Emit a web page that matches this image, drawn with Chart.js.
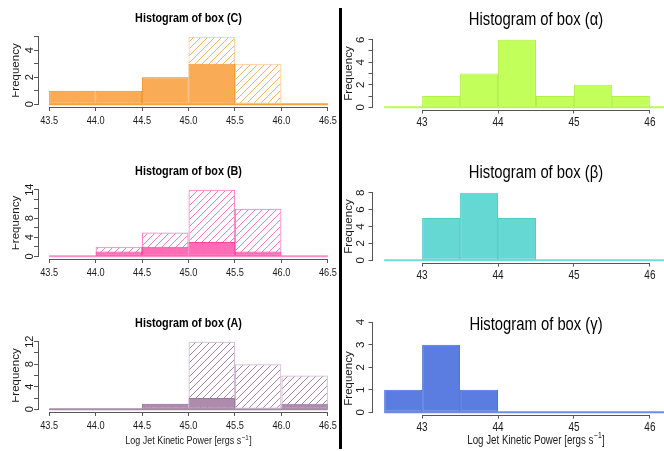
<!DOCTYPE html>
<html>
<head>
<meta charset="utf-8">
<script src="https://cdn.jsdelivr.net/npm/chart.js@4.4.1/dist/chart.umd.min.js"></script>
<style>
html,body{margin:0;padding:0;background:#fff;width:664px;height:451px;overflow:hidden;position:relative;}
canvas{position:absolute;}
#divider{position:absolute;left:339px;top:8px;width:3px;height:441px;background:#000;z-index:5;}
</style>
</head>
<body>
<canvas id="cC"></canvas>
<canvas id="cB"></canvas>
<canvas id="cA"></canvas>
<canvas id="cAlpha"></canvas>
<canvas id="cBeta"></canvas>
<canvas id="cGamma"></canvas>
<div id="divider"></div>
<script>
// ---------------- DATA ----------------
const leftEdges  = [43.5, 44.0, 44.5, 45.0, 45.5, 46.0, 46.5];
const rightEdges = [42.5, 43.0, 43.5, 44.0, 44.5, 45.0, 45.5, 46.0, 46.5];

const boxC_all = [1, 1, 2, 5, 3, 0];
const boxC_sub = [1, 1, 2, 3, 0, 0];
const boxB_all = [0, 2, 5, 14, 10, 0];
const boxB_sub = [0, 1, 2, 3, 1, 0];
const boxA_all = [0, 0, 1, 12, 8, 6];
const boxA_sub = [0, 0, 1, 2, 0, 1];

const boxAlpha = [0, 1, 3, 6, 1, 2, 1, 0];
const boxBeta  = [0, 5, 8, 5, 0, 0, 0, 0];
const boxGamma = [1, 3, 1, 0, 0, 0, 0, 0];

const leftXTicks  = [43.5, 44.0, 44.5, 45.0, 45.5, 46.0, 46.5];
const leftXTickLabels = ['43.5', '44.0', '44.5', '45.0', '45.5', '46.0', '46.5'];
const rightXTicks = [43, 44, 45, 46];
const rightXTickLabels = ['43', '44', '45', '46'];

const yTicksC = [0, 1, 2, 3, 4, 5];          const yLabelsC = [0, 2, 4];
const yTicksB = [0, 2, 4, 6, 8, 10, 12, 14]; const yLabelsB = [0, 4, 8, 14];
const yTicksA = [0, 2, 4, 6, 8, 10, 12];     const yLabelsA = [0, 4, 8, 12];
const yTicksAlpha = [0, 1, 2, 3, 4, 5, 6];   const yLabelsAlpha = [0, 2, 4, 6];
const yTicksBeta  = [0, 2, 4, 6, 8];         const yLabelsBeta  = [0, 2, 4, 6, 8];
const yTicksGamma = [0, 1, 2, 3, 4];         const yLabelsGamma = [0, 1, 2, 3, 4];

const titleC = 'Histogram of box (C)';
const titleB = 'Histogram of box (B)';
const titleA = 'Histogram of box (A)';
const titleAlpha = 'Histogram of box (\u03B1)';
const titleBeta  = 'Histogram of box (\u03B2)';
const titleGamma = 'Histogram of box (\u03B3)';
const yAxisTitle = 'Frequency';
const xAxisTitleMain = 'Log Jet Kinetic Power [ergs s';
const xAxisTitleSup = '\u22121';
const xAxisTitleEnd = ']';

// ---------------- STYLE ----------------
const SX = 0.8;
const FAM = '"Liberation Sans", Arial, Helvetica, sans-serif';
const AXIS_COLOR = '#555555';
const TEXT_COLOR = '#1a1a1a';

const leftFonts  = {title: 13.5, titleWeight: 'bold', ylab: 11.5, ytick: 11, xtick: 11.5, xtitle: 11.2,
                    titleOff: 11.8, ylabOff: 19.4, ytickOff: 5, xtickOff: 16.8, xtitleOff: 32.3, tick: 4};
const rightFonts = {title: 18.5, titleWeight: 'normal', ylab: 11.5, ytick: 11.5, xtick: 12.5, xtitle: 12.2,
                    titleOff: 12.3, ylabOff: 20.5, ytickOff: 8, xtickOff: 16.2, xtitleOff: 28.6, tick: 3.5};

const panels = [
  {id:'cC', page:{x:0,y:0,w:340,h:150}, area:{left:38,right:339,top:34,bottom:107},
   edges:leftEdges, sub:boxC_sub, all:boxC_all, yTicks:yTicksC, yLabels:yLabelsC,
   xTicks:leftXTicks, xLabels:leftXTickLabels, title:titleC, fonts:leftFonts, clipX:12, xTitle:false,
   col:{subFill:'#F9AC55', subBorder:'#F6962A', hatch:'#F9B46C', allBorder:'#FFCC98', base:'#F7A040'}},
  {id:'cB', page:{x:0,y:150,w:340,h:150}, area:{left:38,right:339,top:187,bottom:259},
   edges:leftEdges, sub:boxB_sub, all:boxB_all, yTicks:yTicksB, yLabels:yLabelsB,
   xTicks:leftXTicks, xLabels:leftXTickLabels, title:titleB, fonts:leftFonts, clipX:12, xTitle:false,
   col:{subFill:'#FF6DB6', subBorder:'#FF45A2', hatch:'#FF78C0', allBorder:'#FF7EC4', base:'#FF8DCB'}},
  {id:'cA', page:{x:0,y:300,w:340,h:151}, area:{left:38,right:339,top:339,bottom:412},
   edges:leftEdges, sub:boxA_sub, all:boxA_all, yTicks:yTicksA, yLabels:yLabelsA,
   xTicks:leftXTicks, xLabels:leftXTickLabels, title:titleA, fonts:leftFonts, clipX:12, xTitle:true,
   col:{subFill:'#AD8BAD', subBorder:'#9A779A', hatch:'#A685A6', allBorder:'#CFB6CF', base:'#A58BA5'}},
  {id:'cAlpha', page:{x:342,y:0,w:380,h:150}, area:{left:372,right:700,top:37,bottom:110},
   edges:rightEdges, sub:null, all:boxAlpha, yTicks:yTicksAlpha, yLabels:yLabelsAlpha,
   xTicks:rightXTicks, xLabels:rightXTickLabels, title:titleAlpha, fonts:rightFonts, clipX:null, xTitle:false,
   col:{fill:'#C2FF5A', border:'#B3F046', base:'#BDFB52'}},
  {id:'cBeta', page:{x:342,y:150,w:380,h:150}, area:{left:372,right:700,top:190,bottom:263},
   edges:rightEdges, sub:null, all:boxBeta, yTicks:yTicksBeta, yLabels:yLabelsBeta,
   xTicks:rightXTicks, xLabels:rightXTickLabels, title:titleBeta, fonts:rightFonts, clipX:null, xTitle:false,
   col:{fill:'#66D8D4', border:'#50CDC9', base:'#70DCD8'}},
  {id:'cGamma', page:{x:342,y:300,w:380,h:151}, area:{left:372,right:700,top:342,bottom:415},
   edges:rightEdges, sub:null, all:boxGamma, yTicks:yTicksGamma, yLabels:yLabelsGamma,
   xTicks:rightXTicks, xLabels:rightXTickLabels, title:titleGamma, fonts:rightFonts, clipX:null, xTitle:true,
   col:{fill:'#5B7DE2', border:'#4A6CDC', base:'#6E8CE6'}}
];

function makeHatch(ctx, color) {
  const s = 7;
  const t = document.createElement('canvas');
  t.width = s; t.height = s;
  const c = t.getContext('2d');
  c.strokeStyle = color; c.lineWidth = 1;
  c.beginPath();
  c.moveTo(-1, s + 1); c.lineTo(s + 1, -1);
  c.moveTo(-1, 1); c.lineTo(1, -1);
  c.moveTo(s - 1, s + 1); c.lineTo(s + 1, s - 1);
  c.stroke();
  return ctx.createPattern(t, 'repeat');
}

function drawText(ctx, s, x, y, size, weight, align, rotated, color) {
  ctx.save();
  ctx.translate(x, y);
  if (rotated) ctx.rotate(-Math.PI / 2);
  else ctx.scale(SX, 1);
  ctx.font = weight + ' ' + size + 'px ' + FAM;
  ctx.textAlign = align;
  ctx.textBaseline = 'alphabetic';
  ctx.fillStyle = color;
  ctx.fillText(s, 0, 0);
  ctx.restore();
}

function decorPlugin(p) {
  return {
    id: 'rdecor',
    afterDraw(chart) {
      const ctx = chart.ctx, A = chart.chartArea;
      const xs = chart.scales.x, ys = chart.scales.y, f = p.fonts;
      const al = v => Math.round(v - 0.5) + 0.5;
      ctx.save();
      ctx.strokeStyle = AXIS_COLOR; ctx.lineWidth = 1;
      ctx.beginPath();
      const yx = al(A.left);
      ctx.moveTo(yx, al(ys.getPixelForValue(p.yTicks[0])) + 0.5);
      ctx.lineTo(yx, al(ys.getPixelForValue(p.yTicks[p.yTicks.length - 1])) - 0.5);
      const xy = al(A.bottom);
      ctx.moveTo(al(xs.getPixelForValue(p.xTicks[0])) - 0.5, xy);
      ctx.lineTo(al(xs.getPixelForValue(p.xTicks[p.xTicks.length - 1])) + 0.5, xy);
      ctx.stroke();
      ctx.restore();

      // title
      drawText(ctx, p.title, (A.left + A.right) / 2, A.top - f.titleOff, f.title, f.titleWeight, 'center', false, '#000');
      // y axis title
      ctx.save();
      if (p.clipX !== null) {
        ctx.beginPath(); ctx.rect(p.clipX - p.page.x, 0, chart.width, chart.height); ctx.clip();
      }
      drawText(ctx, yAxisTitle, A.left - f.ylabOff, (A.top + A.bottom) / 2, f.ylab, 'normal', 'center', true, TEXT_COLOR);
      ctx.restore();
      // y tick labels (rotated, R style)
      p.yLabels.forEach(v => {
        drawText(ctx, String(v), A.left - f.ytickOff, ys.getPixelForValue(v), f.ytick, 'normal', 'center', true, TEXT_COLOR);
      });
      // x tick labels
      p.xTicks.forEach((v, i) => {
        drawText(ctx, p.xLabels[i], xs.getPixelForValue(v), A.bottom + f.xtickOff, f.xtick, 'normal', 'center', false, TEXT_COLOR);
      });
      // x axis title with superscript
      if (p.xTitle) {
        const s = f.xtitle, ss = s * 0.7;
        ctx.save();
        ctx.font = 'normal ' + s + 'px ' + FAM;
        const w1 = ctx.measureText(xAxisTitleMain).width;
        const w3 = ctx.measureText(xAxisTitleEnd).width;
        ctx.font = 'normal ' + ss + 'px ' + FAM;
        const w2 = ctx.measureText(xAxisTitleSup).width;
        ctx.restore();
        const total = (w1 + w2 + w3 + 1) * SX;
        let x0 = (A.left + A.right) / 2 - total / 2;
        const yb = A.bottom + f.xtitleOff;
        drawText(ctx, xAxisTitleMain, x0, yb, s, 'normal', 'left', false, TEXT_COLOR);
        x0 += (w1 + 0.5) * SX;
        drawText(ctx, xAxisTitleSup, x0, yb - s * 0.42, ss, 'normal', 'left', false, TEXT_COLOR);
        x0 += (w2 + 0.5) * SX;
        drawText(ctx, xAxisTitleEnd, x0, yb, s, 'normal', 'left', false, TEXT_COLOR);
      }
    }
  };
}

function makeChart(p) {
  const canvas = document.getElementById(p.id);
  canvas.width = p.page.w; canvas.height = p.page.h;
  canvas.style.left = p.page.x + 'px'; canvas.style.top = p.page.y + 'px';
  canvas.style.width = p.page.w + 'px'; canvas.style.height = p.page.h + 'px';
  const ctx = canvas.getContext('2d');
  const AX = 20;
  const a = {left: p.area.left - p.page.x, right: p.area.right - p.page.x,
             top: p.area.top - p.page.y, bottom: p.area.bottom - p.page.y};
  const padding = {left: a.left - AX, right: p.page.w - a.right, top: a.top, bottom: p.page.h - a.bottom - AX};

  const e = p.edges;
  const centers = e.slice(0, -1).map((v, i) => (v + e[i + 1]) / 2);
  const lo = e[0], hi = e[e.length - 1], xpad = (hi - lo) * 0.04;
  const ymax = Math.max(...p.all, ...(p.sub || []));
  const ypad = ymax * 0.04;

  const barCommon = {type: 'bar', grouped: false, barPercentage: 1, categoryPercentage: 1,
                     borderWidth: 1, borderSkipped: false, inflateAmount: 0};
  const datasets = [];
  if (p.sub) {
    datasets.push(Object.assign({}, barCommon, {
      data: centers.map((c, i) => ({x: c, y: p.sub[i]})),
      backgroundColor: p.col.subFill, borderColor: p.col.subBorder}));
    datasets.push(Object.assign({}, barCommon, {
      data: centers.map((c, i) => ({x: c, y: p.all[i]})),
      backgroundColor: makeHatch(ctx, p.col.hatch), borderColor: p.col.allBorder}));
  } else {
    datasets.push(Object.assign({}, barCommon, {
      data: centers.map((c, i) => ({x: c, y: p.all[i]})),
      backgroundColor: p.col.fill, borderColor: p.col.border}));
  }
  datasets.push({type: 'line', data: [{x: lo, y: 0}, {x: hi, y: 0}],
                 borderColor: p.col.base, borderWidth: 2, pointRadius: 0, fill: false, tension: 0});

  const gridOpts = {display: true, drawOnChartArea: false, drawTicks: true, tickLength: p.fonts.tick,
                    color: AXIS_COLOR, lineWidth: 1, offset: false};
  new Chart(ctx, {
    type: 'bar',
    data: {datasets},
    options: {
      responsive: false, animation: false, devicePixelRatio: 1,
      layout: {padding},
      plugins: {legend: {display: false}, title: {display: false}, tooltip: {enabled: false}},
      scales: {
        x: {type: 'linear', position: 'bottom', min: lo - xpad, max: hi + xpad, offset: false,
            grid: gridOpts, border: {display: false}, ticks: {display: false},
            afterBuildTicks: s => { s.ticks = p.xTicks.map(v => ({value: v})); },
            afterFit: s => { s.height = AX; }},
        y: {type: 'linear', position: 'left', min: -ypad, max: ymax + ypad,
            grid: gridOpts, border: {display: false}, ticks: {display: false},
            afterBuildTicks: s => { s.ticks = p.yTicks.map(v => ({value: v})); },
            afterFit: s => { s.width = AX; }}
      }
    },
    plugins: [decorPlugin(p)]
  });
}

panels.forEach(makeChart);
</script>
</body>
</html>
